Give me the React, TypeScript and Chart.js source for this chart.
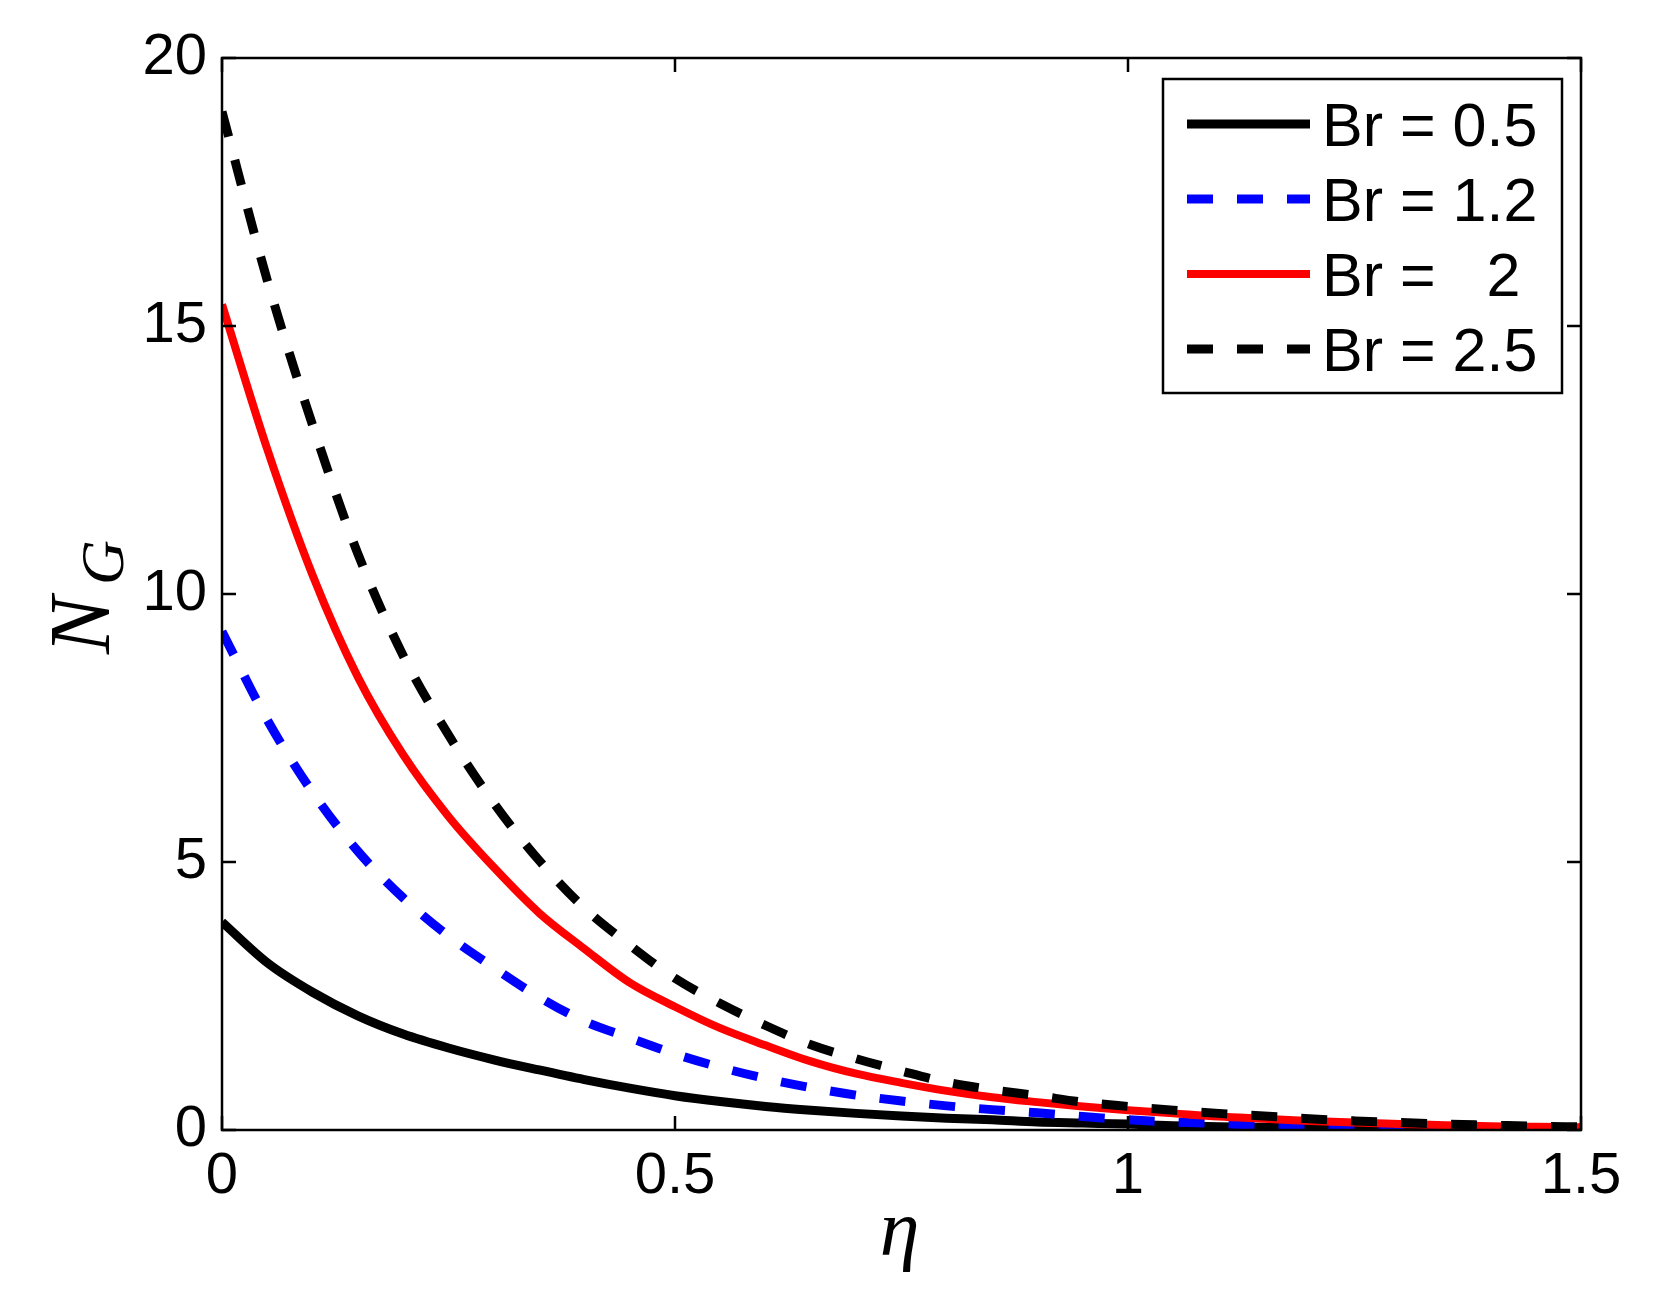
import React, { useEffect, useRef } from "react";
import { Chart, registerables, ChartConfiguration, Plugin } from "chart.js";

Chart.register(...registerables);

// eta positions of the sampled curves
const etaValues = [
  0, 0.05, 0.1, 0.15, 0.2, 0.25, 0.3, 0.35, 0.4, 0.45, 0.5, 0.55, 0.6, 0.65, 0.7, 0.75,
  0.8, 0.85, 0.9, 0.95, 1.0, 1.05, 1.1, 1.15, 1.2, 1.25, 1.3, 1.35, 1.4, 1.45, 1.5,
];

// N_G for each Brinkman number
const ngBr05 = [
  3.88, 3.12, 2.57, 2.13, 1.79, 1.53, 1.31, 1.12, 0.94, 0.78, 0.64, 0.53, 0.44, 0.37, 0.31, 0.26,
  0.22, 0.19, 0.15, 0.13, 0.11, 0.08, 0.06, 0.05, 0.04, 0.03, 0.025, 0.02, 0.015, 0.01, 0.01,
];
const ngBr12 = [
  9.3, 7.65, 6.3, 5.2, 4.33, 3.62, 3.03, 2.48, 2.03, 1.72, 1.42, 1.17, 0.96, 0.79, 0.65, 0.54,
  0.45, 0.38, 0.32, 0.25, 0.19, 0.15, 0.12, 0.09, 0.07, 0.05, 0.04, 0.03, 0.02, 0.015, 0.01,
];
const ngBr20 = [
  15.4, 12.7, 10.35, 8.45, 7.0, 5.85, 4.9, 4.05, 3.38, 2.75, 2.3, 1.9, 1.58, 1.28, 1.05, 0.88,
  0.73, 0.61, 0.52, 0.44, 0.37, 0.31, 0.25, 0.21, 0.17, 0.14, 0.11, 0.09, 0.07, 0.06, 0.05,
];
const ngBr25 = [
  19.0, 15.85, 13.15, 10.75, 8.85, 7.37, 6.1, 5.03, 4.14, 3.45, 2.83, 2.36, 1.95, 1.59, 1.33, 1.1,
  0.89, 0.75, 0.64, 0.52, 0.44, 0.37, 0.31, 0.26, 0.21, 0.17, 0.14, 0.11, 0.09, 0.07, 0.06,
];

const seriesLabels = ["Br = 0.5", "Br = 1.2", "Br =   2", "Br = 2.5"];
const xTicks = [0, 0.5, 1, 1.5];
const yTicks = [0, 5, 10, 15, 20];

const tickFont = "'Liberation Sans', Arial, sans-serif";
const mathFont = "'Liberation Serif', 'Times New Roman', serif";

const toPoints = (ys: number[]) => etaValues.map((x, i) => ({ x, y: ys[i] }));

const framePlugin: Plugin<"line"> = {
  id: "matlabFrame",
  afterDraw(chart) {
    const { ctx, chartArea: a, scales } = chart;
    ctx.save();

    // axes box and inward ticks
    ctx.strokeStyle = "#000";
    ctx.lineWidth = 2.5;
    ctx.setLineDash([]);
    ctx.strokeRect(a.left, a.top, a.right - a.left, a.bottom - a.top);
    const tl = 14;
    ctx.beginPath();
    xTicks.forEach((v) => {
      const px = scales.x.getPixelForValue(v);
      ctx.moveTo(px, a.bottom);
      ctx.lineTo(px, a.bottom - tl);
      ctx.moveTo(px, a.top);
      ctx.lineTo(px, a.top + tl);
    });
    yTicks.forEach((v) => {
      const py = scales.y.getPixelForValue(v);
      ctx.moveTo(a.left, py);
      ctx.lineTo(a.left + tl, py);
      ctx.moveTo(a.right, py);
      ctx.lineTo(a.right - tl, py);
    });
    ctx.stroke();

    // legend
    const boxL = a.right - 418;
    const boxT = a.top + 21;
    const boxW = 399;
    const boxH = 314;
    ctx.fillStyle = "#fff";
    ctx.fillRect(boxL, boxT, boxW, boxH);
    ctx.lineWidth = 2.5;
    ctx.strokeRect(boxL, boxT, boxW, boxH);
    chart.data.datasets.forEach((ds: any, i) => {
      const cy = boxT + 45 + i * 75;
      ctx.beginPath();
      ctx.strokeStyle = ds.borderColor;
      ctx.lineWidth = ds.borderWidth;
      ctx.lineCap = "butt";
      ctx.setLineDash(ds.borderDash || []);
      ctx.moveTo(boxL + 24, cy);
      ctx.lineTo(boxL + 147, cy);
      ctx.stroke();
      ctx.setLineDash([]);
      ctx.fillStyle = "#000";
      ctx.font = `61px ${tickFont}`;
      ctx.textAlign = "left";
      ctx.textBaseline = "alphabetic";
      ctx.fillText(seriesLabels[i], boxL + 159, cy + 22);
    });

    // x title: eta
    ctx.fillStyle = "#000";
    ctx.font = `italic 80px ${mathFont}`;
    ctx.textAlign = "center";
    ctx.textBaseline = "alphabetic";
    ctx.fillText("η", (a.left + a.right) / 2 - 2, 1255);

    // y title: N_G
    ctx.translate(109, (a.top + a.bottom) / 2);
    ctx.rotate(-Math.PI / 2);
    ctx.textAlign = "left";
    ctx.font = `italic 86px ${mathFont}`;
    ctx.fillText("N", -60, 0);
    ctx.font = `italic 62px ${mathFont}`;
    ctx.fillText("G", 9, 14);

    ctx.restore();
  },
};

const App = () => {
  const canvasRef = useRef<HTMLCanvasElement>(null);
  const chartRef = useRef<Chart<"line">>();

  useEffect(() => {
    const ctx = canvasRef.current!.getContext("2d");
    if (chartRef.current) chartRef.current.destroy();

    const config: ChartConfiguration<"line"> = {
      type: "line",
      data: {
        datasets: [
          {
            label: seriesLabels[0],
            data: toPoints(ngBr05),
            borderColor: "#000000",
            borderWidth: 9,
            order: 3,
          },
          {
            label: seriesLabels[1],
            data: toPoints(ngBr12),
            borderColor: "#0000ff",
            borderWidth: 9,
            borderDash: [26, 24],
            order: 2,
          },
          {
            label: seriesLabels[2],
            data: toPoints(ngBr20),
            borderColor: "#ff0000",
            borderWidth: 8,
            order: 1,
          },
          {
            label: seriesLabels[3],
            data: toPoints(ngBr25),
            borderColor: "#000000",
            borderWidth: 9,
            borderDash: [26, 24],
            order: 0,
          },
        ],
      },
      options: {
        responsive: false,
        devicePixelRatio: 1,
        animation: false,
        layout: { padding: { top: 58, right: 78, left: 0, bottom: 0 } },
        elements: {
          point: { radius: 0 },
          line: {
            cubicInterpolationMode: "monotone",
            fill: false,
            borderCapStyle: "butt",
            borderJoinStyle: "round",
          },
        },
        plugins: {
          legend: { display: false },
          tooltip: { enabled: false },
        },
        scales: {
          x: {
            type: "linear",
            min: 0,
            max: 1.5,
            afterBuildTicks: (s) => {
              s.ticks = xTicks.map((value) => ({ value }));
            },
            afterFit: (s) => {
              s.height = 183;
            },
            grid: { display: false, drawTicks: false },
            border: { display: false },
            ticks: {
              color: "#000",
              padding: 12,
              maxRotation: 0,
              autoSkip: false,
              font: { family: tickFont, size: 58 },
              callback: (v) => String(v),
            },
          },
          y: {
            type: "linear",
            min: 0,
            max: 20,
            afterBuildTicks: (s) => {
              s.ticks = yTicks.map((value) => ({ value }));
            },
            afterFit: (s) => {
              s.width = 222;
            },
            grid: { display: false, drawTicks: false },
            border: { display: false },
            ticks: {
              color: "#000",
              padding: 15,
              autoSkip: false,
              font: { family: tickFont, size: 58 },
              callback: (v) => String(v),
            },
          },
        },
      },
      plugins: [framePlugin],
    };

    if (ctx) chartRef.current = new Chart(ctx, config);

    return () => {
      if (chartRef.current) chartRef.current.destroy();
    };
  }, []);

  return (
    <div style={{ position: "fixed", left: 0, top: 0, width: 1659, height: 1313, background: "#fff" }}>
      <canvas ref={canvasRef} width={1659} height={1313} style={{ display: "block" }} />
    </div>
  );
};

export default App;
